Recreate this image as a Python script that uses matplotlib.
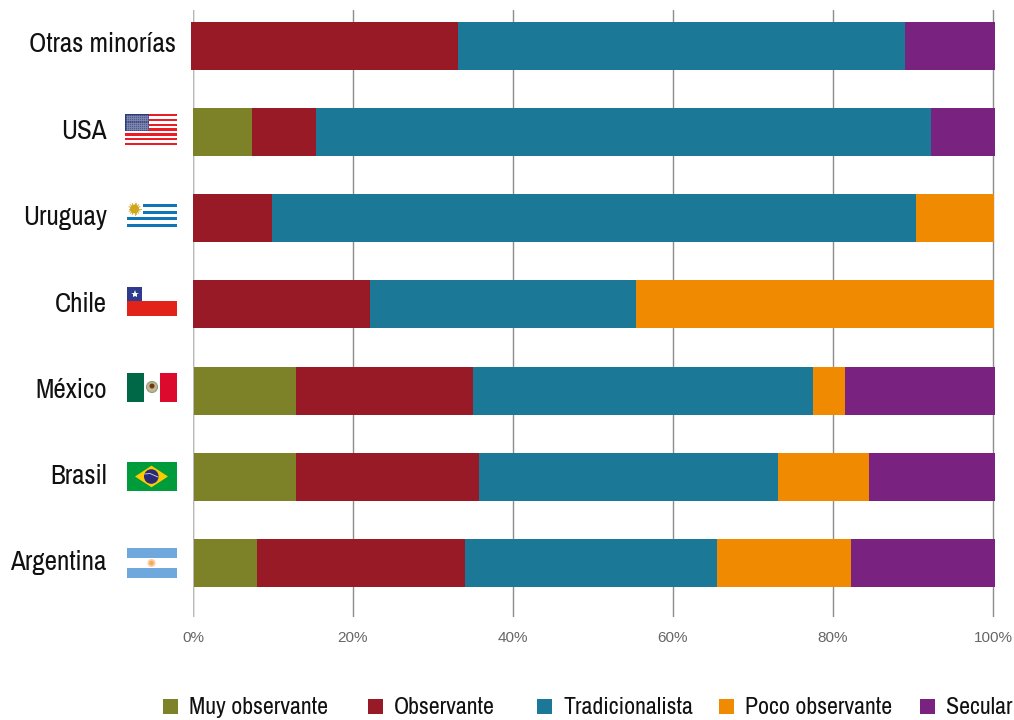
import matplotlib
matplotlib.use('Agg')
import matplotlib.pyplot as plt
import matplotlib.transforms as mtrans
import numpy as np
from matplotlib.patches import Rectangle, Polygon, Circle, Ellipse

countries = ['Otras minorías', 'USA', 'Uruguay', 'Chile', 'México', 'Brasil', 'Argentina']
groups = ['Muy observante', 'Observante', 'Tradicionalista', 'Poco observante', 'Secular']
colors = ['#7d8128', '#971a26', '#1b7896', '#f08a00', '#7a2280']

muy_observante = [0, 7.4, 0, 0, 12.8, 12.8, 7.9]
observante = [33.3, 8.0, 9.9, 22.1, 22.1, 22.9, 26.0]
tradicionalista = [55.9, 76.9, 80.5, 33.25, 42.5, 37.3, 31.5]
poco_observante = [0, 0, 9.75, 44.75, 4.0, 11.4, 16.75]
secular = [11.2, 7.9, 0, 0, 18.75, 15.75, 18.0]
starts = [-0.2, 0, 0, 0, 0.1, 0.1, 0.1]

x_ticks = [0, 20, 40, 60, 80, 100]
x_labels = ['0%', '20%', '40%', '60%', '80%', '100%']

W, H = 1014, 720
narrow = 'Archivo Narrow'

fig = plt.figure(figsize=(W / 100, H / 100), dpi=100)
ax = fig.add_axes([193 / W, (H - 617) / H, 807 / W, 607 / H])
ax.set_xlim(0, 100.875)
ax.set_ylim(6.628, -0.4166)

series = [muy_observante, observante, tradicionalista, poco_observante, secular]
left = np.array(starts, dtype=float)
y = np.arange(len(countries))
for vals, c, g in zip(series, colors, groups):
    ax.barh(y, vals, left=left, height=0.557, color=c, label=g, zorder=3, clip_on=False)
    left = left + np.array(vals)

for s in ax.spines.values():
    s.set_visible(False)
ax.set_xticks(x_ticks)
ax.set_xticklabels(x_labels, fontsize=11, color='#666666', family='Liberation Sans')
ax.set_yticks(y)
ax.set_yticklabels(countries, fontsize=19.5, color='#111111', family=narrow)
ax.tick_params(axis='x', length=0, pad=10)
ax.tick_params(axis='y', length=0, pad=62)
ax.grid(axis='x', color='#8c8c8c', lw=1, zorder=1)
ax.axvline(0, color='#b9b9b9', lw=1.6, zorder=2)

# labels sit a bit above the bar centres; the first row has no flag so it goes right
for i, lab in enumerate(ax.get_yticklabels()):
    dx = 69 / 100 if i == 0 else 0
    dy = 4 / 100 if i == 0 else 2.8 / 100
    lab.set_transform(lab.get_transform() + mtrans.ScaledTranslation(dx, dy, fig.dpi_scale_trans))

# overlay in pixel coordinates for flags and legend
ov = fig.add_axes([0, 0, 1, 1], zorder=5)
ov.set_xlim(0, W)
ov.set_ylim(H, 0)
ov.axis('off')


def box(x, y, w, h, c, **kw):
    ov.add_patch(Rectangle((x, y), w, h, facecolor=c, edgecolor='none', **kw))


# USA
for i in range(13):
    box(125, 114 + i * 2.4, 52, 2.4, '#ed1c24' if i % 2 == 0 else 'white')
box(125, 114, 24, 17, '#2b3a78')
for i in range(7):
    ov.plot(np.linspace(127, 147, 11), [116 + i * 2.2] * 11, ls='none', marker='.', ms=1.1, color='#8c93b8')

# Uruguay
for yy, x0 in [(204, 143), (210.7, 143), (217, 127), (223.7, 127)]:
    box(x0, yy, 177 - x0, 3.4, '#0f75b8')
ov.add_patch(Circle((134.5, 209), 4.5, facecolor='#d0a520', edgecolor='none'))
for a in np.linspace(0, 2 * np.pi, 16, endpoint=False):
    ov.plot([134.5, 134.5 + 6 * np.cos(a)], [209, 209 + 6 * np.sin(a)], color='#d0a520', lw=0.6)

# Chile
box(127, 301, 50, 15, '#e2231a')
box(127, 287, 15, 14, '#2e3a8c')
ov.plot([134.5], [294], marker='*', ms=6, color='white', mew=0)

# Mexico
box(127, 373, 17, 29, '#006847')
box(160, 373, 17, 29, '#dc0a2c')
ov.add_patch(Ellipse((152, 387), 11, 11, facecolor='#c9b48a', edgecolor='#7fa88a', lw=0.8))
ov.add_patch(Circle((152, 386), 2.5, facecolor='#6b3a1e', edgecolor='none'))

# Brasil
box(127, 462, 50, 29, '#009b3a')
ov.add_patch(Polygon([(135, 476.5), (151.5, 465.7), (168, 476.5), (151.5, 487.3)], facecolor='#fecb00', edgecolor='none'))
ov.add_patch(Circle((151.3, 476.5), 7.3, facecolor='#2b2a77', edgecolor='none'))
ov.plot([145, 150, 158], [474, 473.5, 477], color='#d8dde8', lw=0.6)

# Argentina
box(127, 548, 50, 10, '#6fa8dc')
box(127, 568, 50, 10, '#6fa8dc')
ov.add_patch(Circle((151.5, 563), 4, facecolor='#f9cfa0', edgecolor='none'))
ov.add_patch(Circle((151.5, 563), 2.2, facecolor='#f4a95c', edgecolor='none'))

# legend, drawn by hand to keep the uneven spacing
leg_x = [163, 368, 537, 719, 920]
for lx, c, g in zip(leg_x, colors, groups):
    box(lx, 699, 15, 15, c)
    ov.text(lx + 26, 708, g, fontsize=17.2, family=narrow, color='#111111', va='center', ha='left')

fig.savefig('out.png', dpi=100)
